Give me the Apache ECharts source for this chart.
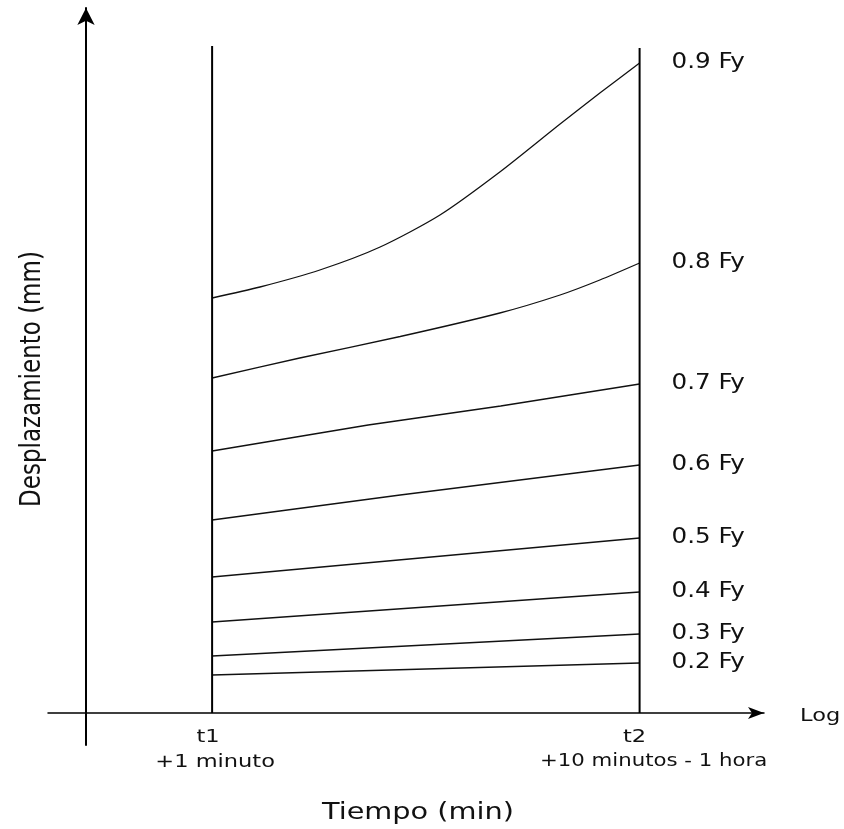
<!DOCTYPE html>
<html>
<head>
<meta charset="utf-8">
<title>Desplazamiento vs tiempo</title>
<script src="https://cdn.jsdelivr.net/npm/echarts@6/dist/echarts.min.js"></script>
<style>
  html, body { margin: 0; padding: 0; background: #fff; }
  #chart { width: 844px; height: 829px; }
</style>
</head>
<body>
<div id="chart"></div>
<script>
// --- données (unités arbitraires : x = temps log, y = déplacement) ---
const t1 = 2.95;
const t2 = 12.95;
const loadLabels = ['0.9 Fy', '0.8 Fy', '0.7 Fy', '0.6 Fy', '0.5 Fy', '0.4 Fy', '0.3 Fy', '0.2 Fy'];

const curve09 = [[2.95, 41.5], [4.07, 42.6], [5.47, 44.3], [6.88, 46.6], [8.28, 49.8], [9.68, 54.1], [11.09, 58.9], [12.02, 62.0], [12.95, 65.0]];
const curve08 = [[2.95, 33.5], [5.0, 35.5], [7.35, 37.65], [9.68, 40.0], [11.09, 41.8], [12.02, 43.3], [12.95, 45.0]];
const curve07 = [[2.95, 26.2], [6.6, 28.8], [9.7, 30.7], [12.95, 32.9]];
const curve06 = [[2.95, 19.3], [7.35, 21.8], [12.95, 24.8]];
const curve05 = [[2.95, 13.6], [12.95, 17.5]];
const curve04 = [[2.95, 9.1], [12.95, 12.1]];
const curve03 = [[2.95, 5.7], [12.95, 7.9]];
const curve02 = [[2.95, 3.8], [12.95, 5.0]];

const t1Line = [[t1, 0], [t1, 66.7]];
const t2Line = [[t2, 0], [t2, 66.5]];

const curves = [curve09, curve08, curve07, curve06, curve05, curve04, curve03, curve02];

const FONT = '"DejaVu Sans", sans-serif';
const STRETCH = 1.25; // le scan est étiré horizontalement

const X_MIN = -0.889, X_MAX = 15.86;
const Y_MIN = -3.2, Y_MAX = 70.5;

const chart = echarts.init(document.getElementById('chart'));

const series = curves.map((c, i) => ({
    name: loadLabels[i],
    type: 'line',
    data: c,
    smooth: c.length > 4 ? 0.25 : false,
    showSymbol: false,
    lineStyle: { color: '#111', width: 1.3 },
    silent: true
}));

series.push(
    { type: 'line', data: t1Line, showSymbol: false, silent: true, lineStyle: { color: '#000', width: 2 } },
    { type: 'line', data: t2Line, showSymbol: false, silent: true, lineStyle: { color: '#000', width: 2 } }
);

chart.setOption({
    animation: false,
    backgroundColor: '#fff',
    grid: { left: 48, top: 8, width: 716, height: 737 },
    xAxis: {
        type: 'value',
        min: X_MIN,
        max: X_MAX,
        axisLine: {
            onZero: true,
            symbol: ['none', 'arrow'],
            symbolSize: [9, 16],
            lineStyle: { color: '#000', width: 1.5 }
        },
        axisTick: { show: false },
        axisLabel: { show: false },
        splitLine: { show: false }
    },
    yAxis: {
        type: 'value',
        min: Y_MIN,
        max: Y_MAX,
        axisLine: {
            onZero: true,
            symbol: ['none', 'arrow'],
            symbolSize: [13, 17],
            lineStyle: { color: '#000', width: 2 }
        },
        axisTick: { show: false },
        axisLabel: { show: false },
        splitLine: { show: false }
    },
    series: series
});

// --- textes (positionnés depuis les données) ---
const px = (pt) => chart.convertToPixel({ gridIndex: 0 }, pt);

const txt = (text, x, y, size, align, extra) => Object.assign({
    type: 'text',
    x: x,
    y: y,
    scaleX: STRETCH,
    silent: true,
    style: {
        text: text,
        fill: '#111',
        font: size + 'px ' + FONT,
        textAlign: align,
        textVerticalAlign: 'middle'
    }
}, extra || {});

const graphics = [];

curves.forEach((c, i) => {
    const end = px(c[c.length - 1]);
    graphics.push(txt(loadLabels[i], end[0] + 32, end[1], 21, 'left', { scaleX: 1.17 }));
});

const p1 = px([t1, 0]);
const p2 = px([t2, 0]);

graphics.push(
    txt('t1', p1[0] - 4, p1[1] + 24, 18, 'center'),
    txt('+1 minuto', p1[0] + 3, p1[1] + 49, 18, 'center'),
    txt('t2', p2[0] - 5, p2[1] + 24, 18, 'center'),
    txt('+10 minutos - 1 hora', p2[0] + 14, p2[1] + 49, 17, 'center'),
    txt('Log', 800, p1[1] + 3, 18, 'left'),
    txt('Tiempo (min)', 418, 813, 23, 'center'),
    {
        type: 'text',
        x: 33,
        y: 379,
        rotation: Math.PI / 2,
        scaleY: STRETCH,
        silent: true,
        style: {
            text: 'Desplazamiento (mm)',
            fill: '#111',
            font: '23px ' + FONT,
            textAlign: 'center',
            textVerticalAlign: 'middle'
        }
    }
);

chart.setOption({ graphic: graphics });

window.addEventListener('resize', () => chart.resize());
</script>
</body>
</html>
